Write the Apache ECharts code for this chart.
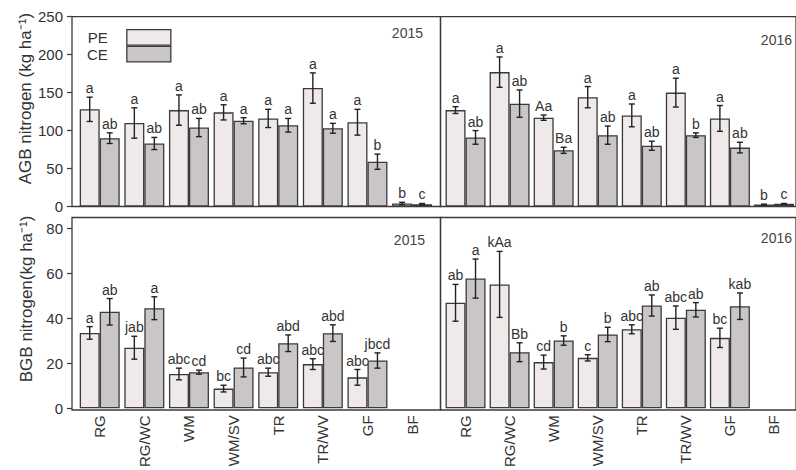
<!DOCTYPE html>
<html><head><meta charset="utf-8">
<script src="https://cdn.jsdelivr.net/npm/echarts@6/dist/echarts.min.js"></script>
<style>html,body{margin:0;padding:0;background:#fff}#c{width:796px;height:470px}</style>
</head><body><div id="c"></div>
<script>
// ---------- DATA ----------
const categories = ['RG', 'RG/WC', 'WM', 'WM/SV', 'TR', 'TR/WV', 'GF', 'BF'];
const agbTicks = [0, 50, 100, 150, 200, 250];
const bgbTicks = [0, 20, 40, 60, 80];

const agb2015PE = [128, 110, 127, 124, 116, 156, 111, 4];
const agb2015PEErr = [16, 20, 20, 10, 12, 20, 17, 1.5];
const agb2015CE = [90, 83, 104, 113, 107, 103, 59, 3];
const agb2015CEErr = [7, 8, 12, 4, 9, 6.5, 10, 1];
const agb2015PELbl = ['a', 'a', 'a', 'a', 'a', 'a', 'a', 'b'];
const agb2015CELbl = ['ab', 'ab', 'ab', 'a', 'a', 'a', 'b', 'c'];

const agb2016PE = [127, 177, 117, 144, 120, 150, 116, 2.6];
const agb2016PEErr = [4.5, 20, 3.5, 14, 15, 19, 17, 0.5];
const agb2016CE = [91, 135.5, 74, 94, 80, 94, 77.6, 3.5];
const agb2016CEErr = [9, 18, 4, 12, 6, 3, 7, 0.5];
const agb2016PELbl = ['a', 'a', 'Aa', 'a', 'a', 'a', 'a', 'b'];
const agb2016CELbl = ['ab', 'ab', 'Ba', 'ab', 'ab', 'b', 'ab', 'c'];

const bgb2015PE = [33.6, 27, 15.3, 8.8, 16.1, 19.7, 13.8, null];
const bgb2015PEErr = [2.8, 5.1, 2.6, 1.5, 1.8, 2.4, 3.5, null];
const bgb2015CE = [43, 44.6, 16.1, 18.2, 29, 33.5, 21.3, null];
const bgb2015CEErr = [5.9, 5.1, 0.9, 4.2, 3.7, 3.7, 3.4, null];
const bgb2015PELbl = ['a', 'jab', 'abc', 'bc', 'abc', 'abc', 'abc', ''];
const bgb2015CELbl = ['ab', 'a', 'cd', 'cd', 'abd', 'abd', 'jbcd', ''];

const bgb2016PE = [47, 55.2, 20.6, 22.5, 35.2, 40.4, 31.4, null];
const bgb2016PEErr = [8.2, 14.7, 3.1, 1.4, 2, 5.2, 4.3, null];
const bgb2016CE = [57.8, 25, 30.2, 32.9, 45.8, 43.9, 45.5, null];
const bgb2016CEErr = [8.7, 4.2, 2.1, 3.2, 4.7, 3.2, 5.9, null];
const bgb2016PELbl = ['ab', 'kAa', 'cd', 'c', 'abc', 'abc', 'bc', ''];
const bgb2016CELbl = ['a', 'Bb', 'b', 'b', 'ab', 'ab', 'kab', ''];

const seriesNames = ['PE', 'CE'];
const yearLabels = ['2015', '2016'];
const yNames = ['AGB nitrogen (kg ha\u207B\u00B9)', 'BGB nitrogen(kg ha\u207B\u00B9)'];

// ---------- LAYOUT / STYLE ----------
const FONT = '"Liberation Sans", Arial, sans-serif';
const TXT = '#333';
const PE_COLOR = '#f0e9e9';
const CE_COLOR = '#cbc6c6';
const EDGE = '#3a3a3a';

const panels = [
  {frame: {left: 72, top: 16.7, width: 368.5, height: 189.8}, dataLeft: 77.4, max: 250, ticks: agbTicks,
   pe: agb2015PE, peErr: agb2015PEErr, ce: agb2015CE, ceErr: agb2015CEErr, peLbl: agb2015PELbl, ceLbl: agb2015CELbl,
   showY: true, showX: false, yName: yNames[0], namePad: 26},
  {frame: {left: 440.5, top: 16.7, width: 368.5, height: 189.8}, dataLeft: 443.5, max: 250, ticks: agbTicks,
   pe: agb2016PE, peErr: agb2016PEErr, ce: agb2016CE, ceErr: agb2016CEErr, peLbl: agb2016PELbl, ceLbl: agb2016CELbl,
   showY: false, showX: false},
  {frame: {left: 72, top: 217.5, width: 368.5, height: 192.5}, dataLeft: 77.4, max: 85, ticks: bgbTicks,
   pe: bgb2015PE, peErr: bgb2015PEErr, ce: bgb2015CE, ceErr: bgb2015CEErr, peLbl: bgb2015PELbl, ceLbl: bgb2015CELbl,
   showY: true, showX: true, yName: yNames[1], namePad: 28},
  {frame: {left: 440.5, top: 217.5, width: 368.5, height: 192.5}, dataLeft: 443.5, max: 85, ticks: bgbTicks,
   pe: bgb2016PE, peErr: bgb2016PEErr, ce: bgb2016CE, ceErr: bgb2016CEErr, peLbl: bgb2016PELbl, ceLbl: bgb2016CELbl,
   showY: false, showX: true}
];

const grids = [], xAxes = [], yAxes = [], series = [];
panels.forEach(p => {
  grids.push({left: p.frame.left, top: p.frame.top, width: p.frame.width, height: p.frame.height,
    show: true, borderColor: EDGE, borderWidth: 1.3, backgroundColor: 'transparent', containLabel: false});
});
panels.forEach((p, k) => {
  grids.push({left: p.dataLeft, top: p.frame.top, width: 357, height: p.frame.height, show: false});
  const gi = 4 + k;
  xAxes.push({type: 'category', gridIndex: gi, data: categories, boundaryGap: true,
    axisLine: {show: false}, axisTick: {show: false},
    axisLabel: {show: p.showX, rotate: 90, fontSize: 15, color: TXT, fontFamily: FONT, margin: 7, interval: 0}});
  yAxes.push({type: 'value', gridIndex: gi, min: 0, max: p.max, show: true,
    offset: p.dataLeft - p.frame.left,
    axisLine: {show: false}, splitLine: {show: false},
    axisTick: {show: p.showY, inside: false, length: 5, lineStyle: {color: EDGE, width: 1.2}, customValues: p.ticks},
    axisLabel: {show: p.showY, fontSize: 15, color: TXT, fontFamily: FONT, margin: 9, customValues: p.ticks},
    name: p.showY ? p.yName : '', nameLocation: 'middle', nameGap: 37,
    nameTextStyle: {fontSize: 17, color: TXT, fontFamily: FONT, padding: [0, 0, 0, p.namePad || 0]}});
  const mk = (vals, name, color) => ({
    type: 'bar', name: name, xAxisIndex: k, yAxisIndex: k, data: vals,
    barWidth: 20, barGap: '0%',
    itemStyle: {color: color, borderColor: EDGE, borderWidth: 1.3},
    emphasis: {disabled: true}, animation: false
  });
  series.push(mk(p.pe, seriesNames[0], PE_COLOR));
  series.push(mk(p.ce, seriesNames[1], CE_COLOR));
  const mkErr = (vals, errs, lbls, shift) => ({
    type: 'custom', xAxisIndex: k, yAxisIndex: k, animation: false, silent: true, z: 5,
    data: vals.map((v, i) => v == null ? null : [i, v, errs[i]]).filter(d => d),
    renderItem: function (params, api) {
      const i = api.value(0), v = api.value(1), e = api.value(2);
      const x = api.coord([i, v])[0] + shift;
      const yt = api.coord([i, v + e])[1];
      const yb = api.coord([i, Math.max(0, v - e)])[1];
      const st = {stroke: '#222', lineWidth: 1.4};
      return {type: 'group', children: [
        {type: 'line', shape: {x1: x, y1: yt, x2: x, y2: yb}, style: st},
        {type: 'line', shape: {x1: x - 3, y1: yt, x2: x + 3, y2: yt}, style: st},
        {type: 'line', shape: {x1: x - 3, y1: yb, x2: x + 3, y2: yb}, style: st},
        {type: 'text', style: {text: lbls[i], x: x, y: yt - 2, align: 'center', verticalAlign: 'bottom',
          fontSize: 14, fill: TXT, fontFamily: FONT}}
      ]};
    }
  });
  series.push(mkErr(p.pe, p.peErr, p.peLbl, -10));
  series.push(mkErr(p.ce, p.ceErr, p.ceLbl, 10));
});

const yearPos = [
  {x: 423, y: 33, t: yearLabels[0]}, {x: 792, y: 40, t: yearLabels[1]},
  {x: 425, y: 240, t: yearLabels[0]}, {x: 792, y: 238, t: yearLabels[1]}
];

const chart = echarts.init(document.getElementById('c'), null, {renderer: 'svg'});
chart.setOption({
  animation: false,
  textStyle: {fontFamily: FONT},
  grid: grids, xAxis: xAxes, yAxis: yAxes, series: series,
  legend: {data: seriesNames, orient: 'vertical', left: 87, top: 29, padding: 0,
    itemWidth: 44, itemHeight: 15.5, itemGap: 0,
    align: 'right', icon: 'rect', selectedMode: false,
    itemStyle: {borderColor: EDGE, borderWidth: 1.3},
    textStyle: {fontSize: 15, lineHeight: 15.5, color: TXT, fontFamily: FONT, padding: [0, 14, 0, 0]}},
  graphic: yearPos.map(d => ({type: 'text', x: d.x, y: d.y, silent: true,
    style: {text: d.t, align: 'right', verticalAlign: 'middle', fontSize: 14, fill: '#444', fontFamily: FONT}}))
});
</script></body></html>
